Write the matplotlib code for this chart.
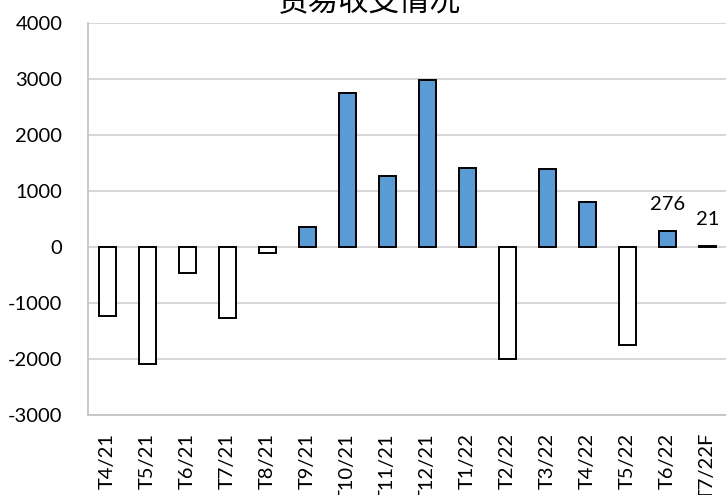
import matplotlib
matplotlib.use("Agg")
import matplotlib.pyplot as plt

categories = ["T4/21", "T5/21", "T6/21", "T7/21", "T8/21", "T9/21", "T10/21", "T11/21",
              "T12/21", "T1/22", "T2/22", "T3/22", "T4/22", "T5/22", "T6/22", "T7/22F"]
values = [-1237, -2090, -464, -1268, -118, 357, 2745, 1262,
          2971, 1400, -1993, 1393, 793, -1750, 276, 21]
labeled = {"T6/22": 276, "T7/22F": 21}
title = "贸易收支情况"
yticks = [-3000, -2000, -1000, 0, 1000, 2000, 3000, 4000]

plt.rcParams['font.family'] = ['Lato', 'Noto Sans CJK SC', 'DejaVu Sans']

W, H = 726, 495
fig = plt.figure(figsize=(W / 100, H / 100), dpi=100)
left, right = 87.5 / W, 727.5 / W
bottom, top = (H - 415) / H, (H - 22.7) / H
ax = fig.add_axes([left, bottom, right - left, top - bottom])

x = list(range(len(categories)))
colors = ["#5B9BD5" if v >= 0 else "white" for v in values]
ax.bar(x, values, width=0.43, color=colors, edgecolor="black", linewidth=1.4, zorder=3)

ax.set_xlim(-0.5, len(categories) - 0.5)
ax.set_ylim(-3000, 4000)
ax.set_yticks(yticks)
ax.set_yticklabels([str(t) for t in yticks], fontsize=14.5)
ax.yaxis.grid(True, color="#D0D0D0", linewidth=1.2, zorder=0)
ax.set_axisbelow(True)
ax.tick_params(axis="y", length=0, pad=18)
ax.tick_params(axis="x", length=0, pad=13)
ax.set_xticks(x)
ax.set_xticklabels(categories, rotation=90, fontsize=14.5, va="top")

for s in ["top", "right"]:
    ax.spines[s].set_visible(False)
for s in ["left", "bottom"]:
    ax.spines[s].set_color("#BFBFBF")
    ax.spines[s].set_linewidth(1.2)

for i, c in enumerate(categories):
    if c in labeled:
        ax.annotate(str(labeled[c]), xy=(i, values[i]), xytext=(0, 13),
                    textcoords="offset points", ha="center", va="bottom", fontsize=14.5)

fig.text(369 / W, 1 - 10 / H, title, ha="center", va="baseline", fontsize=22,
         family=['Noto Sans CJK SC', 'DejaVu Sans'])

fig.savefig("out.png", dpi=100)
